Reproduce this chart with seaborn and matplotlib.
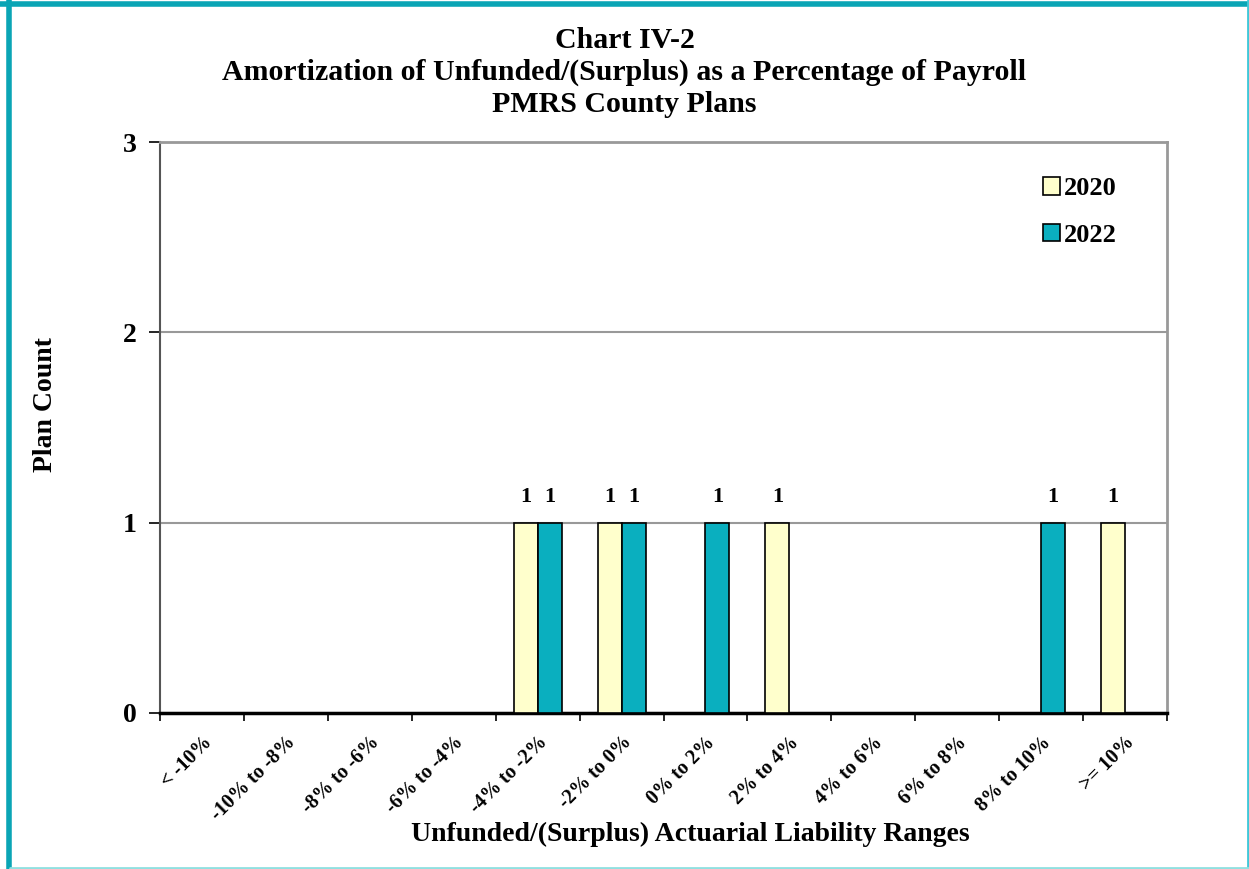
import matplotlib
matplotlib.use("Agg")
import matplotlib.pyplot as plt
import seaborn as sns
import pandas as pd
from matplotlib.lines import Line2D
from matplotlib.patches import Patch

categories = ["< -10%", "-10% to -8%", "-8% to -6%", "-6% to -4%", "-4% to -2%",
              "-2% to 0%", "0% to 2%", "2% to 4%", "4% to 6%", "6% to 8%",
              "8% to 10%", ">= 10%"]
counts_2020 = [0, 0, 0, 0, 1, 1, 0, 1, 0, 0, 0, 1]
counts_2022 = [0, 0, 0, 0, 1, 1, 1, 0, 0, 0, 1, 0]
years = ["2020", "2022"]
colors = {"2020": "#FFFFCC", "2022": "#0AAFBF"}

df = pd.DataFrame({
    "Range": categories * 2,
    "Year": [years[0]] * len(categories) + [years[1]] * len(categories),
    "Count": counts_2020 + counts_2022,
})

sns.set_theme(style="white")
plt.rcParams["font.family"] = ["Liberation Serif", "DejaVu Serif"]
plt.rcParams["font.weight"] = "bold"
plt.rcParams["text.color"] = "black"
plt.rcParams["axes.labelcolor"] = "black"
plt.rcParams["xtick.color"] = "black"
plt.rcParams["ytick.color"] = "black"

fig = plt.figure(figsize=(12.49, 8.69), dpi=100)
ax = fig.add_axes([160/1249, 1-713/869, (1167-160)/1249, (713-142)/869])

sns.barplot(data=df, x="Range", y="Count", hue="Year", order=categories,
            hue_order=years, palette=colors, saturation=1, width=0.572, dodge=True,
            edgecolor="black", linewidth=1.2, ax=ax, legend=False, zorder=3)

for cont in ax.containers:
    labels = ["%d" % v if v > 0 else "" for v in cont.datavalues]
    ax.bar_label(cont, labels=labels, padding=11, fontsize=16, fontweight="bold")

ax.set_ylim(0, 3)
ax.set_xlim(-0.5, len(categories) - 0.5)
ax.set_yticks([0, 1, 2, 3])
ax.set_yticklabels(["0", "1", "2", "3"], fontsize=20, fontweight="bold")
ax.yaxis.grid(True, color="#999999", linewidth=1.5, zorder=0)
ax.set_axisbelow(True)

ax.set_xticks(range(len(categories)))
ax.set_xticklabels(categories, rotation=45, ha="right", rotation_mode="anchor",
                   fontsize=14.5, fontweight="bold")
ax.set_xticks([i - 0.5 for i in range(len(categories) + 1)], minor=True)
ax.tick_params(axis="x", which="major", length=0, pad=14)
ax.tick_params(axis="x", which="minor", length=6, width=1.2, color="black", direction="out", bottom=True)
ax.tick_params(axis="y", length=8, width=1.2, color="black", direction="out", left=True, pad=9)

for s in ["top", "right"]:
    ax.spines[s].set_color("#999999")
    ax.spines[s].set_linewidth(2)
ax.spines["left"].set_color("#555555")
ax.spines["left"].set_linewidth(1.5)
ax.spines["bottom"].set_color("black")
ax.spines["bottom"].set_linewidth(2.5)

ax.set_xlabel("Unfunded/(Surplus) Actuarial Liability Ranges", fontsize=20,
              fontweight="bold")
ax.xaxis.set_label_coords((690 - 160) / 1007, (713 - 834) / 571)
ax.xaxis.label.set_va("center")
ax.set_ylabel("Plan Count", fontsize=20, fontweight="bold")
ax.yaxis.set_label_coords((45 - 160) / 1007, (713 - 405) / 571)
ax.yaxis.label.set_va("center")

tx = 0.5 * (217 + 1032) / 1249
fig.text(tx, 1 - 40/869, "Chart IV-2", ha="center", va="center",
         fontsize=21.5, fontweight="bold")
fig.text(tx, 1 - 72/869,
         "Amortization of Unfunded/(Surplus) as a Percentage of Payroll",
         ha="center", va="center", fontsize=21.5, fontweight="bold")
fig.text(tx, 1 - 105/869, "PMRS County Plans", ha="center",
         va="center", fontsize=21.5, fontweight="bold")

handles = [Patch(facecolor=colors[y], edgecolor="black", linewidth=1.2, label=y) for y in years]
ax.legend(handles=handles, loc="upper left", bbox_to_anchor=((1043 - 160) / 1007, (713 - 177) / 571),
          frameon=False, handlelength=0.65, handleheight=0.65, borderpad=0, borderaxespad=0,
          handletextpad=0.15, labelspacing=0.9, prop={"weight": "bold", "size": 19})

# figure frame
fig.add_artist(Line2D([8.5/1249, 8.5/1249], [0, 1], transform=fig.transFigure, color="#0AA5B5", linewidth=4))
fig.add_artist(Line2D([0, 1], [1 - 3.5/869, 1 - 3.5/869], transform=fig.transFigure, color="#0AA5B5", linewidth=4))
fig.add_artist(Line2D([1247.5/1249, 1247.5/1249], [0, 1], transform=fig.transFigure, color="#40C8D8", linewidth=2))
fig.add_artist(Line2D([10/1249, 1], [1/869, 1/869], transform=fig.transFigure, color="#90E0E0", linewidth=2))

fig.savefig("out.png", dpi=100)
